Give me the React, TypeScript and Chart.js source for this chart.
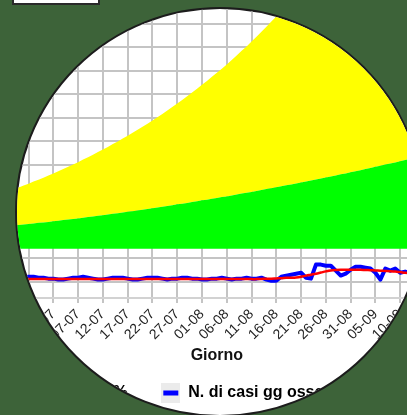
import React, { useEffect, useRef } from "react";
import { Chart, registerables } from "chart.js";

Chart.register(...registerables);

// ---- data ----
const DATES = [
  "24-06", "25-06", "26-06", "27-06", "28-06", "29-06", "30-06",
  "01-07", "02-07", "03-07", "04-07", "05-07", "06-07", "07-07", "08-07", "09-07", "10-07",
  "11-07", "12-07", "13-07", "14-07", "15-07", "16-07", "17-07", "18-07", "19-07", "20-07",
  "21-07", "22-07", "23-07", "24-07", "25-07", "26-07", "27-07", "28-07", "29-07", "30-07", "31-07",
  "01-08", "02-08", "03-08", "04-08", "05-08", "06-08", "07-08", "08-08", "09-08", "10-08",
  "11-08", "12-08", "13-08", "14-08", "15-08", "16-08", "17-08", "18-08", "19-08", "20-08",
  "21-08", "22-08", "23-08", "24-08", "25-08", "26-08", "27-08", "28-08", "29-08", "30-08", "31-08",
  "01-09", "02-09", "03-09", "04-09", "05-09", "06-09", "07-09", "08-09", "09-09", "10-09",
  "11-09", "12-09", "13-09", "14-09",
];

const OBSERVED = [
  1.7, 1.7, 1.7, 2.1, 2.1, 1.7, 1.7, 1.3,
  1.3, 0.9, 0.9, 1.3, 1.7, 1.7, 2.1, 1.7, 1.3, 0.9,
  0.9, 1.3, 1.7, 1.7, 1.7, 1.3, 0.9, 0.9, 1.3, 1.7,
  1.7, 1.7, 1.3, 0.9, 1.3, 1.3, 1.7, 1.7, 1.3, 1.3,
  0.9, 0.9, 1.3, 1.3, 1.7, 1.3, 0.9, 1.3, 1.3, 1.7,
  1.3, 1.3, 1.7, 0.9, 0.4, 0.4, 2.1, 2.6, 3.0, 3.4,
  3.8, 1.7, 1.3, 7.3, 7.3, 6.8, 6.8, 4.7, 2.6, 3.4,
  5.1, 6.4, 6.4, 6.0, 5.6, 3.8, 0.9, 5.6, 4.7, 5.6,
  3.8, 4.3, 3.8, 4.3, 3.8,
];

const EXPECTED = [
  1.1, 1.1, 1.1, 1.1, 1.1, 1.1, 1.1, 1.1, 1.1, 1.1,
  1.1, 1.1, 1.1, 1.1, 1.1, 1.1, 1.1, 1.1, 1.1, 1.1,
  1.1, 1.1, 1.1, 1.1, 1.1, 1.1, 1.1, 1.1, 1.1, 1.1,
  1.1, 1.1, 1.1, 1.1, 1.1, 1.1, 1.1, 1.1, 1.1, 1.1,
  1.1, 1.1, 1.1, 1.1, 1.1, 1.1, 1.1, 1.1, 1.1,
  1.1, 1.2, 1.3, 1.3, 1.4, 1.5, 1.7, 1.7, 1.8, 2.1,
  2.6, 3.0, 3.4, 3.9, 4.4, 4.8, 5.0, 5.1, 5.1, 5.1,
  5.1, 5.1, 5.0, 4.9, 4.8, 4.7, 4.6, 4.5, 4.3, 4.1,
  3.8, 3.6, 3.5, 3.4,
];

const GREEN_FLOOR = 14.1;

const GREEN_UPPER = [
  24.0, 24.2, 24.4, 24.6, 24.8, 25.1, 25.3, 25.5, 25.8, 26.0,
  26.3, 26.5, 26.8, 27.0, 27.3, 27.6, 27.8, 28.1, 28.4, 28.7,
  29.0, 29.2, 29.5, 29.8, 30.1, 30.4, 30.7, 31.0, 31.3, 31.7,
  32.0, 32.3, 32.6, 33.0, 33.3, 33.6, 34.0, 34.3, 34.7, 35.0,
  35.4, 35.7, 36.1, 36.4, 36.8, 37.2, 37.6, 37.9, 38.3, 38.7,
  39.1, 39.5, 39.9, 40.3, 40.7, 41.1, 41.5, 41.9, 42.3, 42.7,
  43.2, 43.6, 44.0, 44.5, 44.9, 45.3, 45.8, 46.2, 46.7, 47.1,
  47.6, 48.1, 48.5, 49.0, 49.5, 50.0, 50.4, 50.9, 51.4, 51.9,
  52.4, 52.9, 53.4,
];

const YELLOW_UPPER = [
  39.4, 40.2, 41.0, 41.8, 42.7, 43.5, 44.4, 45.3, 46.2, 47.1,
  48.1, 49.0, 50.0, 51.0, 52.1, 53.1, 54.2, 55.3, 56.4, 57.5,
  58.7, 59.8, 61.1, 62.3, 63.5, 64.8, 66.1, 67.4, 68.8, 70.2,
  71.6, 73.0, 74.5, 76.0, 77.5, 79.1, 80.7, 82.3, 84.0, 85.6,
  87.4, 89.1, 90.9, 92.7, 94.6, 96.5, 98.5, 100.4, 102.5, 104.5,
  106.6, 108.8, 111.0, 113.2, 115.5, 117.8, 120.2, 122.6, 125.0, 127.6,
  130.1, 132.7, 135.4, 138.1, 140.9, 143.7, 146.6, 149.6, 152.6, 155.6,
  158.8, 162.0, 165.2, 168.5, 171.9, 175.4, 178.9, 182.5, 186.2, 189.9,
  193.7, 197.6, 201.6,
];

const NAME_OBSERVED = "N. di casi gg osservati";
const NAME_EXPECTED = "N. di casi gg attesi";
const NAME_GREEN = "Soglia 95%";
const NAME_YELLOW = "Soglia di allerta";
const X_TITLE = "Giorno";

const Y_MIN = -7;
const Y_MAX = 130;
const Y_STEP = 10;

// ---- style ----
const FONT = "'Liberation Sans', Arial, sans-serif";
const BG = "rgb(61, 99, 57)";
const GRID = "#c4c4c4";
const CANVAS_W = 600;
const CANVAS_H = 434;
const CANVAS_LEFT = 0; // page coords
const CANVAS_TOP = -23;
const Y_LEFT_W = 7;
const Y_RIGHT_W = 180;
const CIRCLE_LEFT = 15;
const CIRCLE_TOP = 7;
const CIRCLE_SIZE = 410;
const CIRCLE_BORDER = 2;

function legendIcon(color: string): HTMLCanvasElement {
  const c = document.createElement("canvas");
  c.width = 19;
  c.height = 20;
  const g = c.getContext("2d")!;
  g.fillStyle = "#ebebeb";
  g.fillRect(0, 0, 19, 20);
  g.fillStyle = color;
  g.fillRect(2, 7.5, 15, 5);
  return c;
}

function ChartView() {
  const ref = useRef<HTMLCanvasElement>(null);
  useEffect(() => {
    const canvas = ref.current!;
    const icons = [legendIcon("#00ff00"), legendIcon("#0000ff"), legendIcon("#ff0000")];
    const chart = new Chart(canvas, {
      type: "line",
      data: {
        labels: DATES,
        datasets: [
          {
            label: NAME_EXPECTED,
            data: EXPECTED,
            borderColor: "#ff0000",
            borderWidth: 2.5,
            tension: 0.4,
            pointRadius: 0,
            fill: false,
          },
          {
            label: NAME_OBSERVED,
            data: OBSERVED,
            borderColor: "#0000ff",
            borderWidth: 4,
            tension: 0,
            pointRadius: 0,
            borderJoinStyle: "round",
            fill: false,
          },
          {
            label: NAME_GREEN,
            data: GREEN_UPPER,
            borderColor: "rgba(0,0,0,0)",
            borderWidth: 0,
            backgroundColor: "#00ff00",
            pointRadius: 0,
            fill: { value: GREEN_FLOOR },
          },
          {
            label: NAME_YELLOW,
            data: YELLOW_UPPER,
            borderColor: "rgba(0,0,0,0)",
            borderWidth: 0,
            backgroundColor: "#ffff00",
            pointRadius: 0,
            fill: 2,
          },
        ],
      },
      options: {
        animation: false,
        responsive: false,
        devicePixelRatio: 1,
        layout: { padding: 0 },
        plugins: {
          tooltip: { enabled: false },
          legend: {
            position: "bottom",
            align: "start",
            labels: {
              usePointStyle: true,
              pointStyleWidth: 19,
              padding: 16,
              color: "#111",
              font: { family: FONT, size: 16, weight: "bold" },
              generateLabels: () => [
                { text: NAME_GREEN + "    ", pointStyle: icons[0], fillStyle: "#00ff00", strokeStyle: "#00ff00", lineWidth: 0, hidden: false, datasetIndex: 2 },
                { text: NAME_OBSERVED, pointStyle: icons[1], fillStyle: "#0000ff", strokeStyle: "#0000ff", lineWidth: 0, hidden: false, datasetIndex: 1 },
                { text: NAME_EXPECTED, pointStyle: icons[2], fillStyle: "#ff0000", strokeStyle: "#ff0000", lineWidth: 0, hidden: false, datasetIndex: 0 },
              ] as any,
            },
          },
        },
        scales: {
          x: {
            grid: {
              color: (c: any) => (c.tick && c.tick.label ? GRID : "rgba(0,0,0,0)"),
              lineWidth: 2,
              tickLength: 5,
            },
            border: { display: true, color: "#d2d2d2", width: 2 },
            ticks: {
              autoSkip: false,
              minRotation: 45,
              maxRotation: 45,
              padding: 3,
              color: "#222",
              font: { family: FONT, size: 14 },
              callback: (_v: any, i: number) => (i % 5 === 3 ? DATES[i] : null),
            },
            title: {
              display: true,
              text: X_TITLE,
              color: "#111",
              font: { family: FONT, size: 16, weight: "bold" },
              padding: { top: 0, bottom: 3.5 },
            },
          },
          y: {
            min: Y_MIN,
            max: Y_MAX,
            ticks: { display: false, stepSize: Y_STEP },
            grid: {
              color: (c: any) => (c.tick && c.tick.value === Y_MIN ? "rgba(0,0,0,0)" : GRID),
              lineWidth: 2,
              drawTicks: false,
            },
            border: { display: false },
            afterFit: (s: any) => {
              s.width = Y_LEFT_W;
            },
          },
          y2: {
            position: "right",
            min: Y_MIN,
            max: Y_MAX,
            ticks: { display: false },
            grid: { display: false, drawTicks: false },
            border: { display: false },
            afterFit: (s: any) => {
              s.width = Y_RIGHT_W;
            },
          },
        },
      } as any,
    });
    return () => chart.destroy();
  }, []);
  return (
    <canvas
      ref={ref}
      width={CANVAS_W}
      height={CANVAS_H}
      style={{
        position: "absolute",
        left: CANVAS_LEFT - CIRCLE_LEFT - CIRCLE_BORDER,
        top: CANVAS_TOP - CIRCLE_TOP - CIRCLE_BORDER,
        width: CANVAS_W,
        height: CANVAS_H,
      }}
    />
  );
}

export default function App() {
  return (
    <div
      style={{
        position: "fixed",
        left: 0,
        top: 0,
        width: 407,
        height: 415,
        overflow: "hidden",
        background: BG,
      }}
    >
      <div
        style={{
          position: "absolute",
          left: 12,
          top: -10,
          width: 88,
          height: 15,
          boxSizing: "border-box",
          border: "2px solid #2a2a2a",
          background: "#fff",
        }}
      />
      <div
        style={{
          position: "absolute",
          left: CIRCLE_LEFT,
          top: CIRCLE_TOP,
          width: CIRCLE_SIZE,
          height: CIRCLE_SIZE,
          boxSizing: "border-box",
          border: `${CIRCLE_BORDER}px solid #1c1c1c`,
          borderRadius: "50%",
          overflow: "hidden",
          background: "#fff",
        }}
      >
        <ChartView />
      </div>
    </div>
  );
}
